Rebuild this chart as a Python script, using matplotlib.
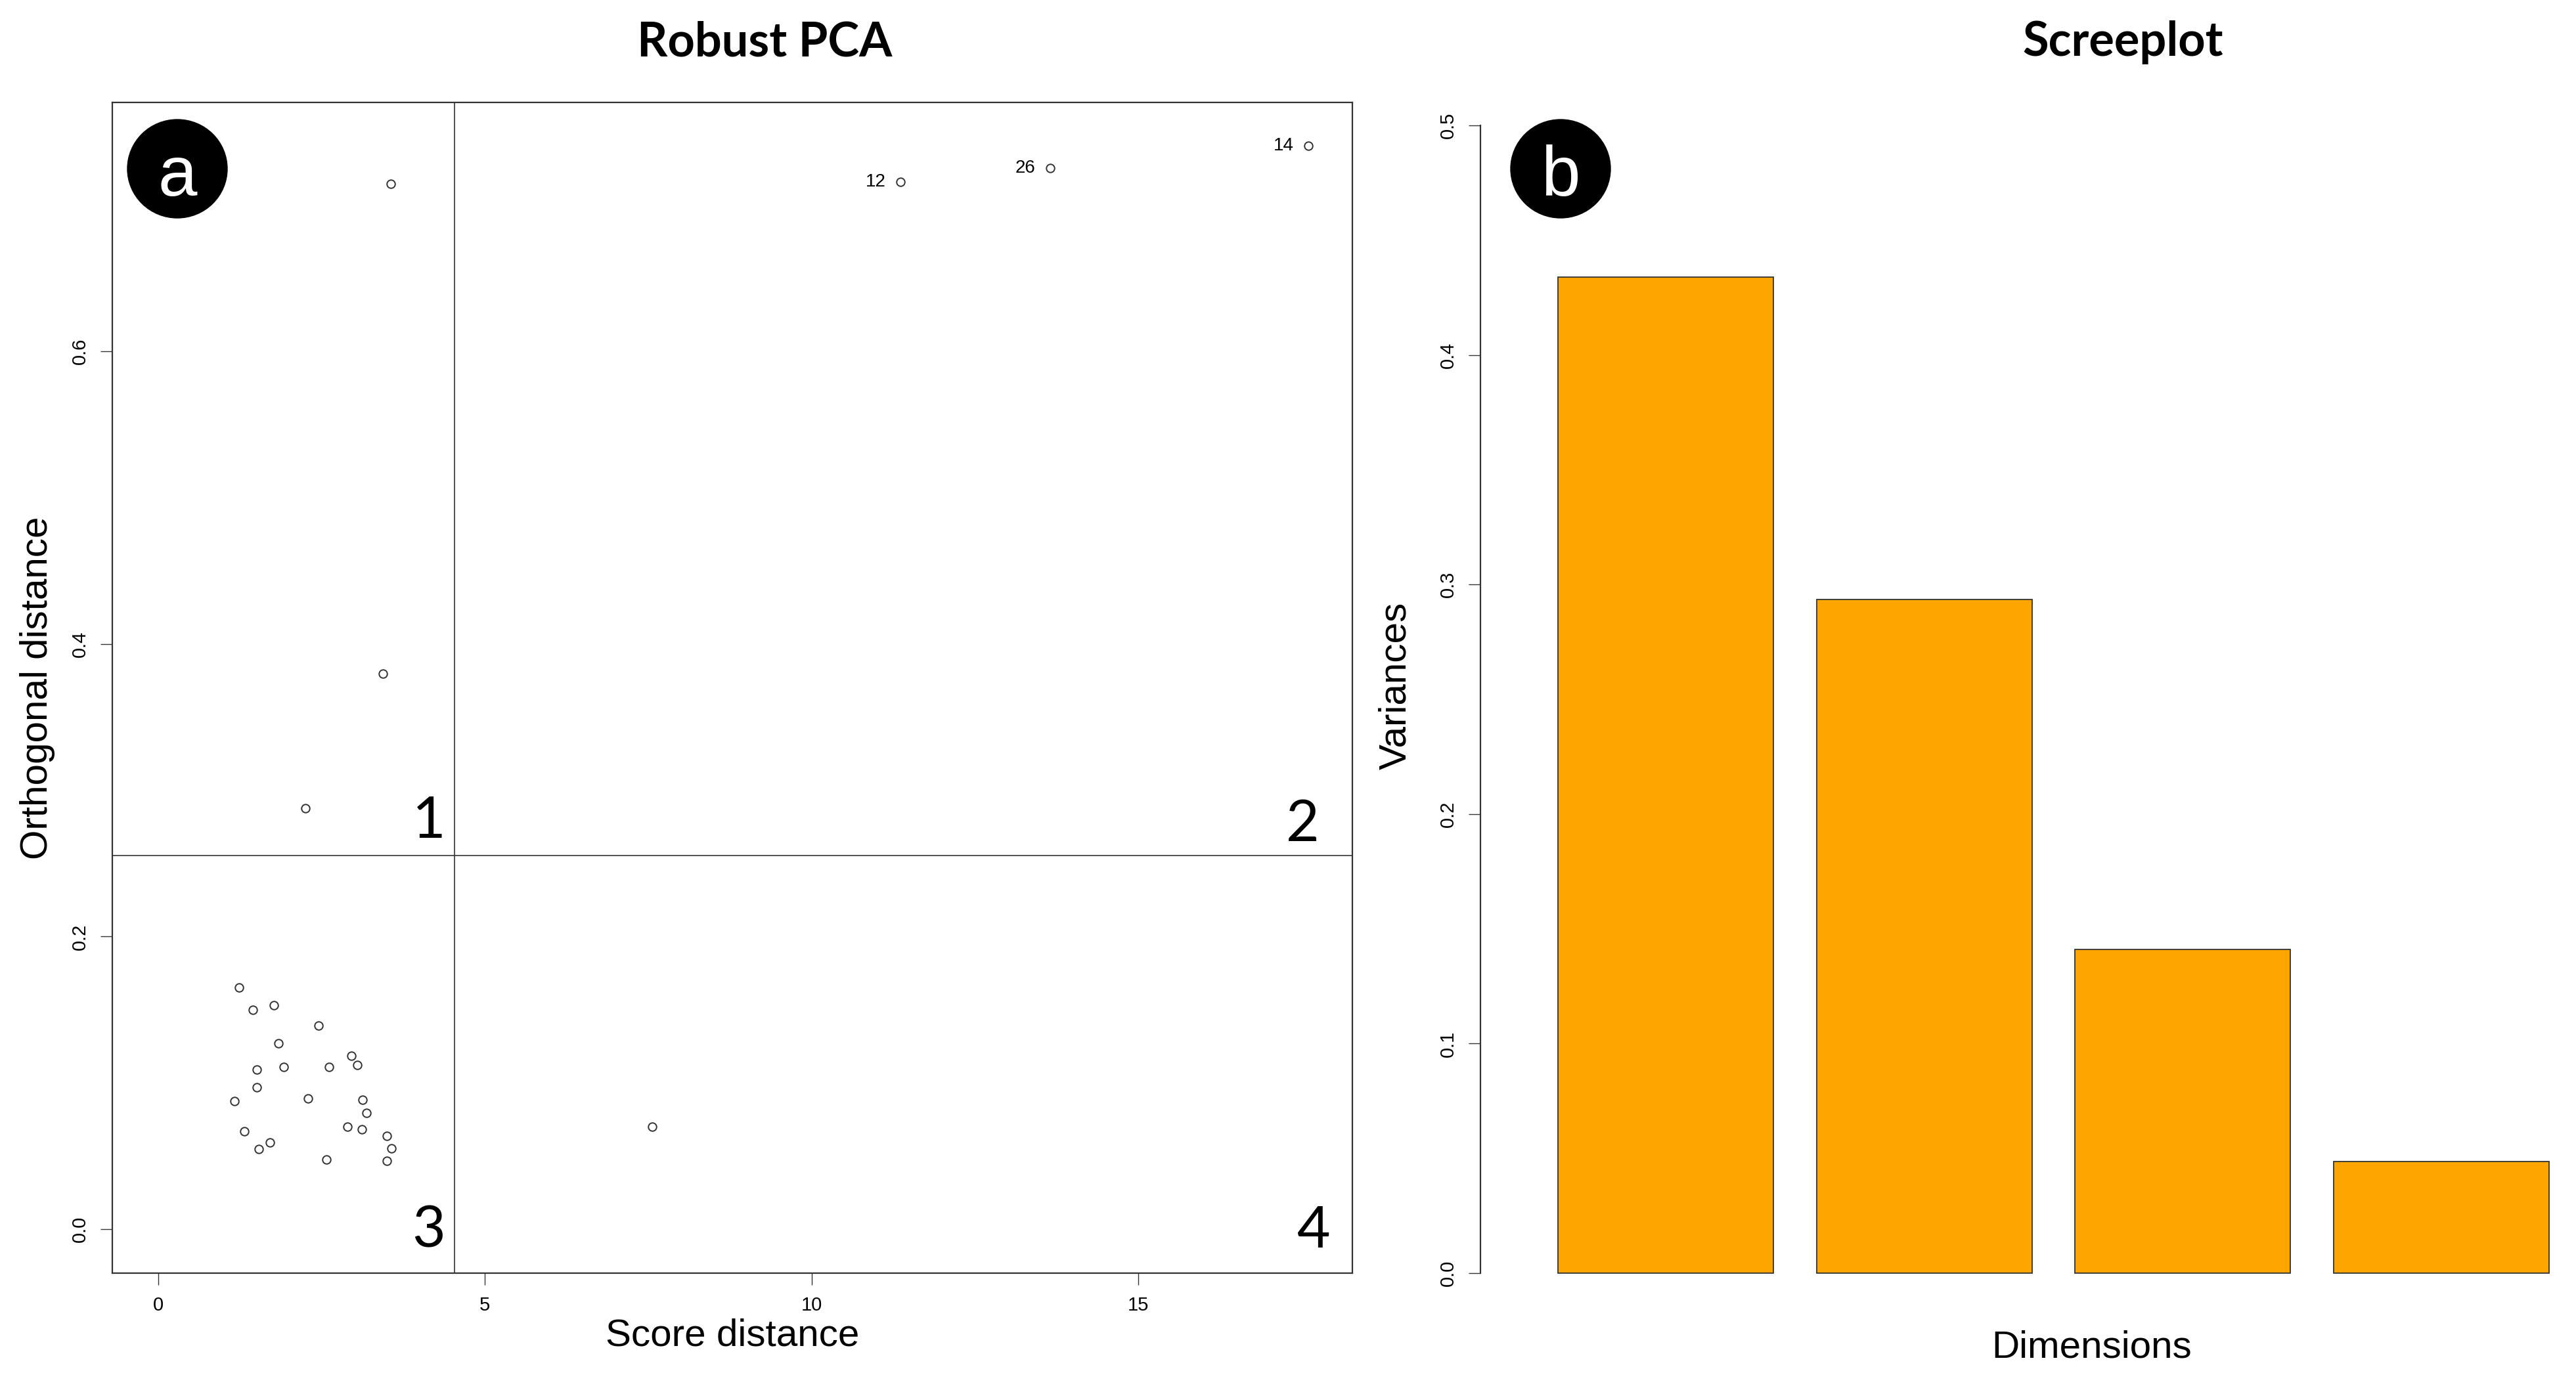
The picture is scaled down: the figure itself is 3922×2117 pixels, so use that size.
import numpy as np
import matplotlib
matplotlib.use("Agg")
import matplotlib.pyplot as plt
from matplotlib.patches import Ellipse

# robust PCA outlier map: score distance vs orthogonal distance
score_dist = [1.24, 1.45, 1.77, 2.45, 1.84, 2.96, 3.05, 1.51, 1.92, 2.61,
              1.51, 1.17, 2.29, 3.13, 3.19, 1.32, 2.90, 3.12, 3.50, 1.71,
              1.54, 3.57, 2.57, 3.50,
              3.56, 3.44, 2.25, 7.56]
orth_dist = [0.165, 0.150, 0.153, 0.139, 0.127, 0.1185, 0.112, 0.109, 0.111, 0.111,
             0.097, 0.0875, 0.0894, 0.0885, 0.0795, 0.0669, 0.0702, 0.0681, 0.0638, 0.0594,
             0.0549, 0.0551, 0.0474, 0.0468,
             0.7144, 0.3797, 0.2877, 0.070]

# labelled outliers
out_ids = ["12", "26", "14"]
out_sd = [11.36, 13.65, 17.60]
out_od = [0.7157, 0.7254, 0.7404]

cutoff_sd = 4.534
cutoff_od = 0.2552
quadrants = ["1", "2", "3", "4"]

# screeplot
variances = [0.434, 0.2935, 0.141, 0.0486]

W, H = 3923, 2117


def px_rect(l, t, r, b):
    return [l / W, 1 - b / H, (r - l) / W, (b - t) / H]


plt.rcParams['font.family'] = ['Liberation Sans', 'DejaVu Sans']
fig = plt.figure(figsize=(W / 100, H / 100), dpi=100)

edge = '#333333'

# ---- panel a ----
ax1 = fig.add_axes(px_rect(171, 156, 2059, 1939))
ax1.plot(score_dist, orth_dist, 'o', ms=9, mfc='none', mec=edge, mew=1.4)
ax1.plot(out_sd, out_od, 'o', ms=9, mfc='none', mec=edge, mew=1.4)
for lab, x, y in zip(out_ids, out_sd, out_od):
    ax1.annotate(lab, (x, y), xytext=(-16, 0), textcoords='offset points',
                 ha='right', va='center', fontsize=20)
ax1.axvline(cutoff_sd, color=edge, lw=1.2)
ax1.axhline(cutoff_od, color=edge, lw=1.2)
ax1.set_xlim(-0.704, 18.277)
ax1.set_ylim(-0.0301, 0.7702)
ax1.set_xticks([0, 5, 10, 15])
ax1.set_yticks([0.0, 0.2, 0.4, 0.6])
ax1.set_yticklabels(['0.0', '0.2', '0.4', '0.6'])
ax1.tick_params(length=13, width=1.0, color=edge, labelsize=21, pad=12)
ax1.tick_params(axis='y', labelrotation=90)
for lab in ax1.get_yticklabels():
    lab.set_va('center')
for sp in ax1.spines.values():
    sp.set_linewidth(1.6)
    sp.set_color(edge)
ax1.set_xlabel('Score distance', fontsize=42)
ax1.xaxis.set_label_coords(0.5, (1939 - 2035) / (1939 - 156))
ax1.xaxis.label.set_va('center')
ax1.set_ylabel('Orthogonal distance', fontsize=42)
ax1.yaxis.set_label_coords((57 - 171) / (2059 - 171), 0.5)
ax1.yaxis.label.set_va('center')

q_pos = [(0.269, 0.372), (0.9735, 0.369), (0.2685, 0.0219), (0.982, 0.0219)]
for q, (qx, qy) in zip(quadrants, q_pos):
    ax1.text(qx, qy, q, transform=ax1.transAxes, ha='right', va='baseline',
             fontsize=63, family=['Lato', 'DejaVu Sans'])

# ---- panel b ----
ax2 = fig.add_axes(px_rect(2254, 121, 3923, 2009))
bar_pos = 0.7 + 1.2 * np.arange(len(variances))
ax2.bar(bar_pos, variances, width=1.0, color='#FFA500', edgecolor=edge, linewidth=1.3)
ax2.set_xlim(-0.16, 4.929)
ax2.set_ylim(-0.02, 0.52)
ax2.set_xticks([])
ax2.set_yticks(np.round(np.arange(0, 0.51, 0.1), 1))
ax2.tick_params(length=13, width=1.0, color=edge, labelsize=21, pad=12)
ax2.tick_params(axis='y', labelrotation=90)
for lab in ax2.get_yticklabels():
    lab.set_va('center')
for s in ['top', 'right', 'bottom']:
    ax2.spines[s].set_visible(False)
ax2.spines['left'].set_bounds(0, 0.5)
ax2.spines['left'].set_linewidth(1.6)
ax2.spines['left'].set_color(edge)
ax2.set_xlabel('Dimensions', fontsize=42)
ax2.xaxis.set_label_coords((3185 - 2254) / (3923 - 2254), (2009 - 2053) / (2009 - 121))
ax2.xaxis.label.set_va('center')
ax2.set_ylabel('Variances', fontsize=42)
ax2.yaxis.set_label_coords((2125 - 2254) / (3923 - 2254), (2009 - 1044) / (2009 - 121))
ax2.yaxis.label.set_va('center')

# titles
fig.text(1164 / W, 1 - 65 / H, 'Robust PCA', ha='center', va='center',
         fontsize=52, fontweight='bold', family=['Lato', 'DejaVu Sans'])
fig.text(3232 / W, 1 - 65 / H, 'Screeplot', ha='center', va='center',
         fontsize=52, fontweight='bold', family=['Lato', 'DejaVu Sans'])

# panel badges
for letter, cx in [('a', 270), ('b', 2376)]:
    fig.add_artist(Ellipse((cx / W, 1 - 257 / H), 152 / W, 150 / H,
                           transform=fig.transFigure, color='black', zorder=5))
    fig.text(cx / W, 1 - 298 / H, letter, ha='center', va='baseline',
             color='white', fontsize=77, zorder=6)

fig.savefig('out.png', dpi=100, facecolor='white')
